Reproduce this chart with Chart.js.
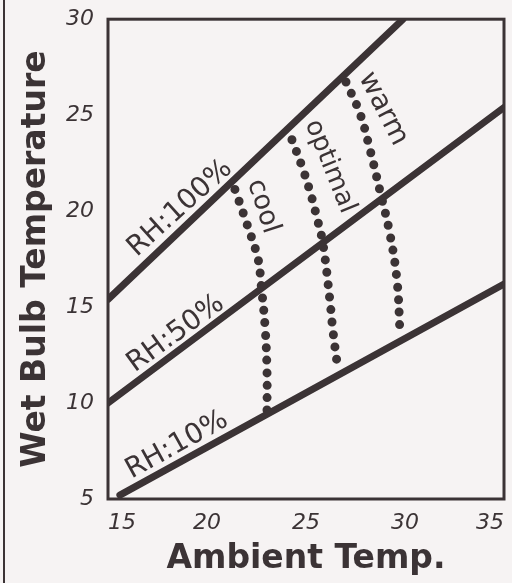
<!DOCTYPE html>
<html>
<head>
<meta charset="utf-8">
<script src="https://cdn.jsdelivr.net/npm/chart.js@4.4.1/dist/chart.umd.min.js"></script>
<style>
  html, body { margin: 0; padding: 0; background: #f6f3f3; }
  #wrap { position: relative; width: 512px; height: 583px; }
  #edge { position: absolute; left: 3px; top: 0; width: 2px; height: 583px; background: #3b3335; }
</style>
</head>
<body>
<div id="wrap">
  <div id="edge"></div>
  <canvas id="chart" width="512" height="583"></canvas>
</div>
<script>
// RH 线 (起点/终点)
const rh100X = [15, 29.9];
const rh100Y = [15.4, 30];
const rh50X = [15, 35];
const rh50Y = [10, 25.4];
const rh10X = [15.6, 35];
const rh10Y = [5.2, 16.2];

// 点状曲线
const coolX = [21.41, 22.02, 22.58, 22.73, 22.93, 23.03, 23.03];
const coolY = [21.13, 19.32, 17.5, 16.2, 14.02, 11.69, 9.51];
const optimalX = [24.29, 24.8, 25.2, 25.56, 25.86, 26.21, 26.36, 26.62];
const optimalY = [23.72, 22.32, 21.03, 19.63, 18.28, 15.32, 13.77, 11.69];
const warmX = [27.02, 27.73, 28.23, 28.74, 29.24, 29.6, 29.75];
const warmY = [26.73, 25.07, 23.21, 21.03, 18.8, 16.36, 13.61];

// 坐标轴刻度
const xTicks = [15, 20, 25, 30, 35];
const yTicks = [5, 10, 15, 20, 25, 30];

// 文字标注
const noteText = ['RH:100%', 'RH:50%', 'RH:10%', 'cool', 'optimal', 'warm'];
const noteX = [18.64, 18.43, 18.48, 22.83, 26.21, 28.89];
const noteY = [20.15, 13.61, 7.8, 20.25, 22.32, 25.33];
const noteAngle = [-42, -36, -29, 72, 68, 63];
const noteSize = [28, 28, 28, 27, 26, 28];

const ink = '#3b3335';

function pts(xs, ys) {
    return xs.map((x, i) => ({ x: x, y: ys[i] }));
}

function solid(xs, ys) {
    return {
        data: pts(xs, ys),
        showLine: true,
        borderColor: ink,
        borderWidth: 7,
        borderCapStyle: 'round',
        pointRadius: 0,
        tension: 0
    };
}

function dotted(xs, ys) {
    return {
        data: pts(xs, ys),
        showLine: true,
        borderColor: ink,
        borderWidth: 9,
        borderCapStyle: 'round',
        borderDash: [0, 12.5],
        pointRadius: 0,
        tension: 0.4
    };
}

// 画外框和文字标注
const notesPlugin = {
    id: 'notes',
    afterDatasetsDraw(chart) {
        const ctx = chart.ctx;
        const a = chart.chartArea;
        ctx.save();
        ctx.strokeStyle = ink;
        ctx.lineWidth = 3;
        ctx.strokeRect(a.left, a.top, a.right - a.left, a.bottom - a.top);
        ctx.fillStyle = ink;
        ctx.textAlign = 'center';
        ctx.textBaseline = 'middle';
        noteText.forEach((t, i) => {
            const px = chart.scales.x.getPixelForValue(noteX[i]);
            const py = chart.scales.y.getPixelForValue(noteY[i]);
            ctx.save();
            ctx.font = noteSize[i] + 'px "DejaVu Sans"';
            ctx.translate(px, py);
            ctx.rotate(noteAngle[i] * Math.PI / 180);
            ctx.fillText(t, 0, 0);
            ctx.restore();
        });
        ctx.restore();
    }
};

new Chart(document.getElementById('chart'), {
    type: 'scatter',
    data: {
        datasets: [
            solid(rh100X, rh100Y),
            solid(rh50X, rh50Y),
            solid(rh10X, rh10Y),
            dotted(coolX, coolY),
            dotted(optimalX, optimalY),
            dotted(warmX, warmY)
        ]
    },
    options: {
        responsive: false,
        animation: false,
        layout: { padding: { top: 17, right: 8, left: 0, bottom: 0 } },
        plugins: { legend: { display: false }, tooltip: { enabled: false } },
        scales: {
            x: {
                type: 'linear',
                min: 15, max: 35,
                afterBuildTicks: s => { s.ticks = xTicks.map(v => ({ value: v })); },
                afterFit: s => { s.height = 84; },
                grid: { display: false },
                border: { display: false },
                ticks: { color: ink, align: 'inner', padding: 3, font: { family: 'DejaVu Sans', size: 22, style: 'italic' } },
                title: { display: true, text: 'Ambient Temp.', color: ink, padding: { top: 8 }, font: { family: 'DejaVu Sans', size: 33, weight: 'bold' } }
            },
            y: {
                type: 'linear',
                min: 5, max: 30,
                afterBuildTicks: s => { s.ticks = yTicks.map(v => ({ value: v })); },
                afterFit: s => { s.width = 108; },
                grid: { display: false },
                border: { display: false },
                ticks: { color: ink, padding: 6, font: { family: 'DejaVu Sans', size: 22, style: 'italic' } },
                title: { display: true, text: 'Wet Bulb Temperature', color: ink, padding: { top: 17 }, font: { family: 'DejaVu Sans', size: 33, weight: 'bold' } }
            }
        }
    },
    plugins: [notesPlugin]
});
</script>
</body>
</html>
